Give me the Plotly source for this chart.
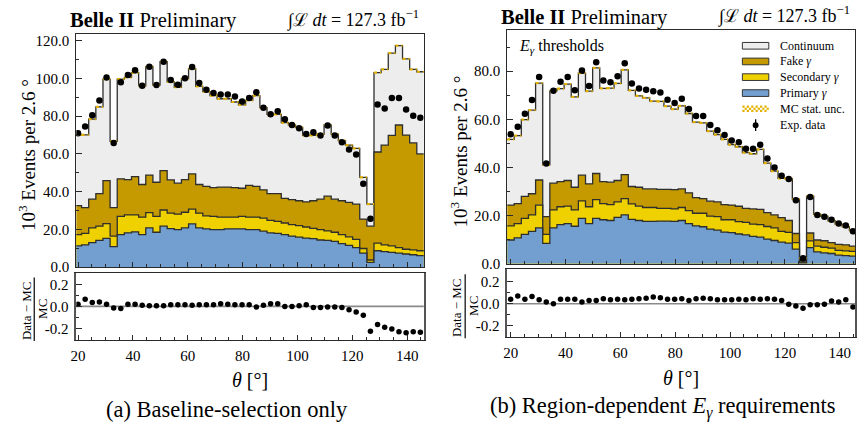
import plotly.graph_objects as go

W, H = 857, 444
FONT = "Liberation Serif"

# ---------------- binning ----------------
BIN_START = 18.7
BIN_WIDTH = 2.6
N_BINS = 49
edges = [BIN_START + BIN_WIDTH * i for i in range(N_BINS + 1)]
centers = [BIN_START + BIN_WIDTH * (i + 0.5) for i in range(N_BINS)]

# ---------------- (a) baseline selection: cumulative stack tops [10^3 events] ----------------
a_total = [70.1, 70.1, 78.4, 84.9, 99.6, 66.7, 99.6, 100.5, 103.1, 96.1,
           106.2, 96.5, 108.8, 98.2, 95.3, 99.9, 105.1, 95.8, 93.0, 90.9,
           89.2, 89.2, 87.5, 86.0, 88.3, 90.9, 84.5, 80.9, 80.9, 76.6,
           75.3, 74.0, 69.8, 69.8, 70.5, 75.3, 70.5, 67.0, 64.6, 62.9,
           47.6, 33.4, 103.1, 104.8, 113.4, 117.4, 110.3, 104.8, 103.5]
a_fake_top = [32.6, 31.5, 36.0, 39.0, 45.9, 31.5, 46.8, 46.4, 48.0, 43.8,
              48.8, 45.0, 51.1, 46.2, 44.5, 46.4, 49.4, 43.8, 42.8, 42.1,
              42.4, 42.4, 42.1, 41.8, 43.3, 42.8, 41.0, 39.0, 39.0, 36.4,
              35.8, 35.2, 34.6, 35.2, 36.0, 37.6, 36.0, 35.2, 34.3, 33.4,
              25.5, 21.7, 61.0, 64.6, 69.8, 75.3, 70.0, 65.8, 60.0]
a_sec_top = [17.3, 17.9, 20.8, 21.7, 23.1, 16.5, 26.9, 27.7, 27.7, 26.5,
             28.9, 26.9, 30.3, 28.6, 28.1, 29.1, 30.8, 28.6, 27.2, 26.9,
             26.5, 26.5, 26.5, 26.9, 26.5, 26.5, 26.0, 24.8, 24.3, 23.4,
             22.5, 22.0, 21.3, 20.6, 19.9, 19.2, 18.5, 17.3, 16.1, 14.7,
             9.9, 3.8, 12.7, 11.8, 11.3, 10.4, 9.5, 9.2, 8.7]
a_prim_top = [11.3, 11.8, 13.0, 14.2, 15.3, 10.9, 17.3, 18.2, 18.7, 17.3,
              20.8, 18.5, 21.7, 20.4, 19.9, 20.8, 22.9, 20.8, 20.3, 19.9,
              19.9, 20.3, 20.3, 20.3, 19.9, 19.9, 19.1, 18.2, 17.9, 17.3,
              16.5, 15.9, 15.4, 15.1, 14.4, 14.2, 13.7, 12.5, 11.6, 10.4,
              7.5, 2.6, 8.7, 8.2, 7.8, 7.5, 7.0, 6.6, 6.1]
a_data = [71.0, 74.5, 80.5, 88.3, 100.5, 65.8, 97.9, 101.8, 104.3, 96.1,
          106.2, 96.5, 108.8, 99.1, 96.6, 100.1, 106.0, 97.5, 94.0, 92.3,
          91.4, 91.4, 90.4, 87.8, 89.6, 92.7, 84.4, 81.0, 82.6, 78.4,
          75.3, 73.6, 70.5, 71.5, 69.8, 75.0, 69.8, 66.2, 62.3, 59.7,
          44.2, 25.7, 86.2, 84.0, 89.6, 89.6, 83.5, 80.2, 79.2]
a_ratio = [0.02, 0.065, 0.035, 0.04, 0.02, -0.015, -0.02, 0.02, 0.02, 0.01,
           0.005, 0.005, 0.005, 0.015, 0.015, 0.015, 0.01, 0.015, 0.015, 0.015,
           0.025, 0.02, 0.015, 0.015, 0.015, -0.005, 0.01, 0.025, 0.025, 0.0,
           0.0, 0.005, 0.015, -0.01, -0.01, -0.005, -0.005, -0.01, -0.03, -0.05,
           -0.08, -0.225, -0.165, -0.19, -0.205, -0.23, -0.24, -0.23, -0.235]

# ---------------- (b) region-dependent E_gamma ----------------
b_total = [51.7, 53.2, 59.9, 63.8, 75.0, 41.1, 71.8, 72.7, 74.6, 69.3,
           79.1, 71.7, 81.3, 72.8, 72.9, 74.9, 80.5, 72.0, 69.7, 68.9,
           67.5, 67.4, 65.5, 64.2, 65.6, 62.4, 58.8, 58.5, 55.1, 53.6,
           51.7, 49.5, 48.6, 46.2, 45.7, 47.5, 41.8, 38.5, 35.5, 35.4,
           26.9, 2.4, 28.1, 20.5, 19.7, 17.9, 16.5, 15.4, 13.9]
b_fake_top = [24.4, 25.0, 28.0, 29.1, 34.8, 19.6, 33.5, 34.1, 34.6, 31.8,
              36.8, 33.2, 37.5, 34.1, 33.9, 34.6, 37.0, 32.1, 31.8, 31.1,
              31.1, 30.9, 30.9, 30.8, 31.1, 29.5, 27.5, 27.1, 26.0, 25.7,
              24.6, 24.4, 23.9, 23.0, 22.8, 22.6, 21.3, 20.3, 19.2, 18.0,
              12.6, 1.3, 12.8, 9.9, 9.6, 8.8, 8.1, 7.9, 7.4]
b_sec_top = [15.8, 16.7, 18.9, 20.3, 24.4, 12.2, 22.4, 23.7, 24.0, 22.4,
             26.1, 23.7, 26.7, 25.0, 24.6, 25.7, 27.1, 24.9, 24.0, 23.4,
             23.4, 23.0, 23.0, 22.8, 23.4, 22.1, 21.0, 21.0, 19.8, 19.6,
             18.3, 18.3, 17.5, 17.2, 16.5, 16.3, 15.5, 14.9, 13.5, 13.1,
             8.8, 0.7, 9.5, 7.4, 6.9, 6.5, 5.6, 5.4, 5.2]
b_prim_top = [9.9, 10.8, 12.2, 13.5, 14.9, 8.5, 14.9, 16.3, 16.7, 15.6,
              18.9, 16.7, 18.9, 18.3, 18.0, 19.3, 20.3, 18.5, 18.0, 17.6,
              17.6, 17.7, 17.7, 17.6, 18.0, 16.7, 15.8, 15.4, 14.4, 14.0,
              13.2, 13.0, 12.4, 12.0, 11.4, 11.1, 10.3, 9.7, 9.0, 8.6,
              6.1, 0.4, 6.7, 5.0, 4.6, 4.3, 3.6, 3.4, 3.2]
b_data = [53.8, 56.9, 62.3, 68.0, 77.6, 41.7, 71.8, 75.6, 77.6, 72.1,
          80.3, 73.8, 83.7, 76.1, 75.4, 77.9, 83.3, 74.9, 72.8, 72.3,
          71.6, 71.1, 68.1, 66.8, 68.5, 64.3, 61.4, 61.4, 57.6, 55.5,
          53.5, 51.2, 50.5, 47.8, 47.8, 49.4, 43.7, 40.0, 36.6, 35.2,
          26.4, 2.3, 27.8, 20.3, 19.6, 18.3, 16.7, 15.9, 13.5]
b_ratio = [0.04, 0.07, 0.04, 0.065, 0.035, 0.015, 0.0, 0.04, 0.04, 0.04,
           0.015, 0.03, 0.03, 0.045, 0.035, 0.04, 0.035, 0.04, 0.045, 0.05,
           0.06, 0.055, 0.04, 0.04, 0.045, 0.03, 0.045, 0.05, 0.045, 0.035,
           0.035, 0.035, 0.04, 0.035, 0.045, 0.04, 0.045, 0.04, 0.03, -0.005,
           -0.02, -0.04, -0.01, -0.01, -0.005, 0.025, 0.015, 0.035, -0.03]
b_ratio_err = [0.004, 0.004, 0.004, 0.004, 0.004, 0.005, 0.004, 0.004, 0.004, 0.004,
               0.004, 0.004, 0.004, 0.004, 0.004, 0.004, 0.004, 0.004, 0.004, 0.004,
               0.004, 0.004, 0.004, 0.004, 0.004, 0.004, 0.004, 0.004, 0.004, 0.004,
               0.004, 0.004, 0.005, 0.005, 0.005, 0.005, 0.005, 0.005, 0.006, 0.006,
               0.007, 0.022, 0.007, 0.008, 0.008, 0.008, 0.009, 0.009, 0.01]

X_TICKS = [20, 40, 60, 80, 100, 120, 140]
X_MINOR = [25, 30, 35, 45, 50, 55, 65, 70, 75, 85, 90, 95, 105, 110, 115, 125, 130, 135, 145]

C_CONT = "#ededed"
C_FAKE = "#c49a00"
C_SEC = "#efd100"
C_PRIM = "#729fcf"
EDGE = "#2e2e2e"
UNC = "#e2b100"
FRAME = "#2a2a2a"


def px(x):
    return x / W


def py(y):
    return 1 - y / H


def step_y(v):
    return list(v) + [v[-1]]


def hsegs(v):
    xs, ys = [], []
    for i, val in enumerate(v):
        xs += [edges[i], edges[i + 1], None]
        ys += [val, val, None]
    return xs, ys


panels = [
    dict(xm="x", ym="y", xr="x2", yr="y2", x0=71, x1=421.7,
         main=(33.3, 271.7), rat=(277.3, 346.0),
         xrange=[19.39, 146.04], yrange=[0, 123.7], rrange=[-0.305, 0.306],
         yticks=[0, 20, 40, 60, 80, 100, 120], yminor=[10, 30, 50, 70, 90, 110],
         total=a_total, fake=a_fake_top, sec=a_sec_top, prim=a_prim_top,
         data=a_data, ratio=a_ratio, rerr=None),
    dict(xm="x3", ym="y3", xr="x4", yr="y4", x0=506, x1=857,
         main=(29.5, 268.3), rat=(274.0, 343.3),
         xrange=[18.78, 145.55], yrange=[0, 97.1], rrange=[-0.305, 0.311],
         yticks=[0, 20, 40, 60, 80], yminor=[10, 30, 50, 70, 90],
         total=b_total, fake=b_fake_top, sec=b_sec_top, prim=b_prim_top,
         data=b_data, ratio=b_ratio, rerr=b_ratio_err),
]

fig = go.Figure()
layout_axes = {}
shapes = []
annotations = []


def axname(a):
    return a[0] + "axis" + a[1:]


for p in panels:
    # stacked histogram drawn back to front as cumulative steps
    for vals, col in [(p["total"], C_CONT), (p["fake"], C_FAKE),
                      (p["sec"], C_SEC), (p["prim"], C_PRIM)]:
        fig.add_trace(go.Scatter(
            x=edges, y=step_y(vals), mode="lines",
            line=dict(shape="hv", color=EDGE, width=1.3),
            fill="tozeroy", fillcolor=col,
            xaxis=p["xm"], yaxis=p["ym"], showlegend=False, hoverinfo="skip"))
    # MC stat. uncertainty band on top of the stack
    hx, hy = hsegs(p["total"])
    fig.add_trace(go.Scatter(
        x=hx, y=hy, mode="lines", line=dict(color=UNC, width=2.2, dash="dot"),
        xaxis=p["xm"], yaxis=p["ym"], showlegend=False, hoverinfo="skip"))
    # data points
    fig.add_trace(go.Scatter(
        x=centers, y=p["data"], mode="markers",
        marker=dict(color="black", size=6.5),
        xaxis=p["xm"], yaxis=p["ym"], showlegend=False))
    # ratio panel
    err = dict(type="data", array=p["rerr"], color="black", thickness=1.3, width=0,
               visible=p["rerr"] is not None)
    fig.add_trace(go.Scatter(
        x=centers, y=p["ratio"], mode="markers",
        marker=dict(color="black", size=5.5), error_y=err,
        xaxis=p["xr"], yaxis=p["yr"], showlegend=False))

    xdom = [px(p["x0"]), px(p["x1"])]
    common_x = dict(range=p["xrange"], domain=xdom, showline=True, mirror=True,
                    linecolor=FRAME, linewidth=1.3, ticks="inside", ticklen=5,
                    tickwidth=1, tickcolor=FRAME, tickvals=X_TICKS,
                    ticktext=[str(t) for t in X_TICKS],
                    minor=dict(tickvals=X_MINOR, ticks="inside", ticklen=3,
                               tickcolor=FRAME, tickwidth=1),
                    showgrid=False, zeroline=False,
                    tickfont=dict(family=FONT, size=15, color="black"))
    layout_axes[axname(p["xm"])] = dict(common_x, anchor=p["ym"], showticklabels=False)
    layout_axes[axname(p["xr"])] = dict(common_x, anchor=p["yr"], showticklabels=True,
                                        ticklabelstandoff=2)
    layout_axes[axname(p["ym"])] = dict(
        range=p["yrange"], domain=[py(p["main"][1]), py(p["main"][0])],
        anchor=p["xm"], showline=True, mirror=True, linecolor=FRAME, linewidth=1.3,
        ticks="inside", ticklen=6, tickwidth=1, tickcolor=FRAME,
        tickvals=p["yticks"], ticktext=["%.1f" % t for t in p["yticks"]],
        minor=dict(tickvals=p["yminor"], ticks="inside", ticklen=3, tickcolor=FRAME),
        showgrid=False, zeroline=False, ticklabelstandoff=3,
        tickfont=dict(family=FONT, size=15, color="black"))
    layout_axes[axname(p["yr"])] = dict(
        range=p["rrange"], domain=[py(p["rat"][1]), py(p["rat"][0])],
        anchor=p["xr"], showline=True, mirror=True, linecolor="#555555", linewidth=1.6,
        ticks="inside", ticklen=6, tickwidth=1, tickcolor=FRAME,
        tickvals=[-0.2, 0.0, 0.2], ticktext=["-0.2", "0.0", "0.2"],
        minor=dict(tickvals=[-0.1, 0.1], ticks="inside", ticklen=3, tickcolor=FRAME),
        showgrid=False, zeroline=False, ticklabelstandoff=3,
        tickfont=dict(family=FONT, size=15, color="black"))
    # zero line in ratio
    shapes.append(dict(type="line", xref=p["xr"] + " domain", yref=p["yr"],
                       x0=0, x1=1, y0=0, y1=0, layer="below",
                       line=dict(color="#8a8a8a", width=1.6)))

    x0 = p["x0"]
    # header texts
    annotations.append(dict(x=px(x0 - 8), y=py(p["main"][0] - 13), xref="paper", yref="paper",
                            xanchor="left", yanchor="middle", showarrow=False,
                            text="<b>Belle II</b> Preliminary",
                            font=dict(family=FONT, size=20.5, color="black")))
    annotations.append(dict(x=px(x0 + 348), y=py(p["main"][0] - 15), xref="paper", yref="paper",
                            xanchor="right", yanchor="middle", showarrow=False,
                            text="\u222b\u2112 <i>dt</i> = 127.3 fb<sup>\u22121</sup>",
                            font=dict(family=FONT, size=18, color="black")))
    # y title main
    annotations.append(dict(x=px(x0 - 49), y=py((p["main"][0] + p["main"][1]) / 2 + 5),
                            xref="paper", yref="paper", textangle=-90,
                            xanchor="center", yanchor="middle", showarrow=False,
                            text="10<sup>3</sup> Events per 2.6 \u00b0",
                            font=dict(family=FONT, size=19, color="black")))
    # ratio fraction title
    rmid = (p["rat"][0] + p["rat"][1]) / 2
    annotations.append(dict(x=px(x0 - 51), y=py(rmid + 4), xref="paper", yref="paper",
                            textangle=-90, xanchor="center", yanchor="middle",
                            showarrow=False, text="Data \u2212 MC",
                            font=dict(family=FONT, size=13, color="black")))
    annotations.append(dict(x=px(x0 - 34), y=py(rmid + 3), xref="paper", yref="paper",
                            textangle=-90, xanchor="center", yanchor="middle",
                            showarrow=False, text="MC",
                            font=dict(family=FONT, size=13, color="black")))
    shapes.append(dict(type="line", xref="paper", yref="paper",
                       x0=px(x0 - 42.5), x1=px(x0 - 42.5),
                       y0=py(p["rat"][0] + 5), y1=py(p["rat"][1] + 1),
                       line=dict(color="black", width=1.2)))
    # x title
    annotations.append(dict(x=px(x0 + 175), y=py(p["rat"][1] + 41), xref="paper", yref="paper",
                            xanchor="center", yanchor="middle", showarrow=False,
                            text="<i>\u03b8</i> [\u00b0]",
                            font=dict(family=FONT, size=20, color="black")))

# captions
annotations.append(dict(x=px(223.5), y=py(417), xref="paper", yref="paper",
                        xanchor="center", yanchor="middle", showarrow=False,
                        text="(a) Baseline-selection only",
                        font=dict(family=FONT, size=22.5, color="black")))
annotations.append(dict(x=px(663), y=py(415), xref="paper", yref="paper",
                        xanchor="center", yanchor="middle", showarrow=False,
                        text="(b) Region-dependent <i>E<sub>\u03b3</sub></i> requirements",
                        font=dict(family=FONT, size=22.5, color="black")))

# E_gamma thresholds label
annotations.append(dict(x=px(516), y=py(46), xref="paper", yref="paper",
                        xanchor="left", yanchor="middle", showarrow=False,
                        text="<i>E<sub>\u03b3</sub></i> thresholds",
                        font=dict(family=FONT, size=16, color="black")))

# manual legend (panel b)
leg_rows = [("Continuum", C_CONT, 45.7), ("Fake <i>\u03b3</i>", C_FAKE, 61.7),
            ("Secondary <i>\u03b3</i>", C_SEC, 77.7), ("Primary <i>\u03b3</i>", C_PRIM, 94.0)]
BX0, BX1, BH = 743.3, 770.0, 6.8
for label, col, yc in leg_rows:
    shapes.append(dict(type="rect", xref="paper", yref="paper",
                       x0=px(BX0), x1=px(BX1), y0=py(yc + BH / 2), y1=py(yc - BH / 2),
                       fillcolor=col, line=dict(color="#333333", width=1)))
    annotations.append(dict(x=px(779), y=py(yc), xref="paper", yref="paper",
                            xanchor="left", yanchor="middle", showarrow=False, text=label,
                            font=dict(family=FONT, size=12, color="black")))
# checkered MC stat. unc. box
yc = 110.0
cell = (BX1 - BX0) / 12
for r in range(3):
    for c in range(12):
        if (r + c) % 2 == 0:
            shapes.append(dict(type="rect", xref="paper", yref="paper",
                               x0=px(BX0 + c * cell), x1=px(BX0 + (c + 1) * cell),
                               y0=py(yc - 3.3 + (r + 1) * 2.2), y1=py(yc - 3.3 + r * 2.2),
                               fillcolor=UNC, line=dict(width=0)))
annotations.append(dict(x=px(779), y=py(yc), xref="paper", yref="paper",
                        xanchor="left", yanchor="middle", showarrow=False,
                        text="MC stat. unc.", font=dict(family=FONT, size=12, color="black")))
# data symbol
yd = 126.7
shapes.append(dict(type="line", xref="paper", yref="paper", x0=px(756.7), x1=px(756.7),
                   y0=py(yd + 6), y1=py(yd - 6), line=dict(color="black", width=1.3)))
shapes.append(dict(type="circle", xref="paper", yref="paper",
                   x0=px(756.7 - 3), x1=px(756.7 + 3), y0=py(yd + 3), y1=py(yd - 3),
                   fillcolor="black", line=dict(color="black", width=0)))
annotations.append(dict(x=px(779), y=py(yd), xref="paper", yref="paper",
                        xanchor="left", yanchor="middle", showarrow=False,
                        text="Exp. data", font=dict(family=FONT, size=12, color="black")))

fig.update_layout(width=W, height=H, margin=dict(l=0, r=0, t=0, b=0),
                  paper_bgcolor="white", plot_bgcolor="white",
                  showlegend=False, shapes=shapes, annotations=annotations,
                  font=dict(family=FONT, color="black"), **layout_axes)

fig.write_html("out.html")
